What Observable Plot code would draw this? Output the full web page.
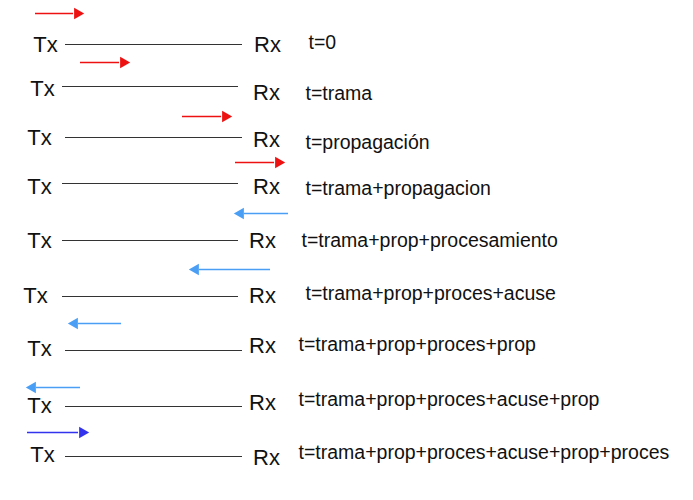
<!DOCTYPE html>
<html><head><meta charset="utf-8">
<script src="https://cdn.jsdelivr.net/npm/d3@7"></script>
<script src="https://cdn.jsdelivr.net/npm/@observablehq/plot@0.6"></script>
<style>body{margin:0;background:#fff}</style>
</head><body><div id="c"></div>
<script>
const labels = ["t=0","t=trama","t=propagación","t=trama+propagacion","t=trama+prop+procesamiento","t=trama+prop+proces+acuse","t=trama+prop+proces+prop","t=trama+prop+proces+acuse+prop","t=trama+prop+proces+acuse+prop+proces"];
const txX = [45,42,39,39,39,35,39,39,42];
const txY = [44,88,137,186,240,295,348,405,454];
const lineX1 = [65,62,65,62,62,62,65,65,65];
const lineX2 = [242,238,242,238,238,238,242,242,242];
const lineY = [44,86,137,183,240,296,350,406,456];
const rxX = [267,266,266,266,262,262,262,262,266];
const rxY = [44,92,139,186,240,295,345,402,457];
const labX = [308,305,305,305,301,305,298,298,298];
const labY = [42,93,142,188,240,293,344,399,452];
const arrFrom = [35,80,182,235,288,270,121,80,27];
const arrTo = [82,128,230,283,235,190,69,27,87];
const arrY = [13,62,116,162,213,269,323,387,432];
const arrColor = ["#ee1111","#ee1111","#ee1111","#ee1111","#4a9ff5","#4a9ff5","#4a9ff5","#4a9ff5","#3333ee"];

const rows = labels.map((l,i)=>({l,i,tx:txX[i],ty:txY[i],x1:lineX1[i],x2:lineX2[i],ly:lineY[i],rx:rxX[i],ry:rxY[i],lx:labX[i],lly:labY[i],af:arrFrom[i],at:arrTo[i],ay:arrY[i],c:arrColor[i],dir:arrTo[i]>arrFrom[i]?1:-1}));
const font = "Liberation Sans, Arial, sans-serif";
const plot = Plot.plot({
  width:693,height:500,margin:0,
  x:{domain:[0,693],axis:null},
  y:{domain:[0,500],axis:null,reverse:true},
  style:{fontFamily:font,background:"#fff"},
  marks:[
    Plot.ruleY(rows,{y:"ly",x1:"x1",x2:"x2",stroke:"#333",strokeWidth:1}),
    Plot.text(rows,{x:"tx",y:"ty",text:()=>"Tx",fontSize:22,fill:"#111"}),
    Plot.text(rows,{x:"rx",y:"ry",text:()=>"Rx",fontSize:22,fill:"#111"}),
    Plot.text(rows,{x:"lx",y:"lly",text:"l",fontSize:19.5,textAnchor:"start",fill:"#111"}),
    Plot.ruleY(rows,{y:"ay",x1:"af",x2:d=>d.at-d.dir*9,stroke:"c",strokeWidth:1.3}),
    Plot.dot(rows,{x:d=>d.at-d.dir*5,y:"ay",symbol:"triangle",r:4.3,fill:"c",stroke:null,rotate:d=>d.dir*90})
  ]
});
document.getElementById("c").append(plot);
</script></body></html>
